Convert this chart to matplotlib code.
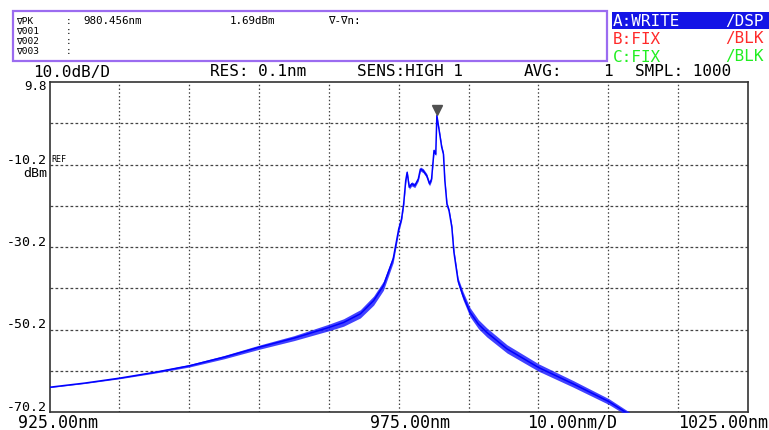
import numpy as np
import matplotlib
matplotlib.use('Agg')
import matplotlib.pyplot as plt
import matplotlib.patches as mpatches
import matplotlib.transforms as mtransforms

W, H = 769, 431

# spectrum (nm, dBm) and ripple half width (dB)
wavelength_nm = [925.0, 930.0, 935.0, 940.0, 945.0, 950.0, 955.0, 960.0, 965.0, 967.1,
                 969.5, 971.4, 972.8, 974.2, 975.0, 975.4, 975.7, 976.0, 976.2, 976.5,
                 976.85, 977.3, 977.8, 978.1, 978.5, 979.0, 979.4, 979.7, 980.05, 980.3,
                 980.456, 980.9, 981.15, 981.4, 981.6, 981.9, 982.2, 982.6, 982.9, 983.5,
                 984.2, 985.2, 986.4, 987.6, 990.5, 995.0, 1000.0, 1005.1, 1008.0]
level_dbm = [-64.2, -63.2, -62.0, -60.6, -59.0, -56.9, -54.5, -52.3, -49.7, -48.5,
             -46.4, -43.2, -39.6, -33.1, -25.8, -23.4, -19.8, -14.1, -12.1, -15.7,
             -14.9, -15.3, -13.7, -11.3, -11.7, -12.9, -14.9, -13.7, -6.8, -7.7,
             1.69, -3.2, -6.0, -7.7, -14.1, -19.8, -21.4, -25.4, -31.5, -38.5,
             -42.0, -46.0, -48.9, -50.9, -54.9, -59.4, -63.4, -67.7, -70.8]
ripple_db = [0.1, 0.1, 0.15, 0.2, 0.3, 0.4, 0.5, 0.6, 0.8, 0.9,
             1.0, 1.1, 1.1, 0.9, 0.7, 0.5, 0.5, 0.5, 0.5, 0.5,
             0.5, 0.5, 0.5, 0.5, 0.5, 0.5, 0.5, 0.5, 0.4, 0.4,
             0.1, 0.4, 0.5, 0.5, 0.5, 0.5, 0.5, 0.6, 0.7, 0.8,
             1.0, 1.1, 1.1, 1.1, 1.0, 0.9, 0.8, 0.7, 0.6]

peak_wl = 980.456
peak_dbm = 1.69

x_start, x_stop, x_div = 925.0, 1025.0, 10.0
ref_dbm, y_div = -10.2, 10.0
y_top, y_bottom = 9.8, -70.2
y_labels = [9.8, -10.2, -30.2, -50.2, -70.2]

mono = 'DejaVu Sans Mono'


def px(x, y):
    return x / W, 1 - y / H


fig = plt.figure(figsize=(W / 100, H / 100), dpi=100)
fig.patch.set_facecolor('white')

# plot area
l, r, t, b = 49.5, 748, 83, 413
ax = fig.add_axes([l / W, 1 - b / H, (r - l) / W, (b - t) / H])
ax.set_xlim(x_start, x_stop)
ax.set_ylim(y_bottom, y_top)
for s in ax.spines.values():
    s.set_color('#333333')
    s.set_linewidth(1.2)
ax.set_xticks([])
ax.set_yticks([])

for gx in np.arange(x_start + x_div, x_stop, x_div):
    ax.axvline(gx, color='#444444', lw=0.9, ls=(0, (1.2, 1.8)), zorder=1)
for gy in np.arange(y_bottom + y_div, y_top - 1, y_div):
    ax.axhline(gy, color='#444444', lw=0.9, ls=(0, (2.2, 1.8)), zorder=1)

wl = np.array(wavelength_nm)
lv = np.array(level_dbm)
rp = np.array(ripple_db)
ax.fill_between(wl, lv - rp, lv + rp, color='#2020ff', lw=0, alpha=0.85, zorder=3)
ax.plot(wl, lv, color='#0000ff', lw=1.1, zorder=4)

off = mtransforms.offset_copy(ax.transData, fig=fig, x=0, y=5, units='dots')
ax.plot([peak_wl], [peak_dbm], marker='v', ms=6.5, color='#505050', transform=off,
        clip_on=False, zorder=5)

# y axis labels
for v in y_labels:
    yy = t + (y_top - v) / (y_top - y_bottom) * (b - t)
    if v == y_top:
        fig.text(*px(47, 80), '%.1f' % v, family=mono, fontsize=9,
                 ha='right', va='top')
    else:
        fig.text(*px(47, yy + 1), '%.1f' % v, family=mono, fontsize=9.5,
                 ha='right', va='bottom')
ref_y = t + (y_top - ref_dbm) / (y_top - y_bottom) * (b - t)
fig.text(*px(51, ref_y - 6), 'REF', family=mono, fontsize=6, ha='left', va='center')
fig.text(*px(47, ref_y + 8), 'dBm', family=mono, fontsize=9.5, ha='right', va='center')

# x axis labels
fig.text(*px(18, 423), '%.2fnm' % x_start, family=mono, fontsize=12, va='center')
fig.text(*px(370, 423), '%.2fnm' % ((x_start + x_stop) / 2), family=mono, fontsize=12,
         va='center')
fig.text(*px(527, 423), '%.2fnm/D' % x_div, family=mono, fontsize=12, va='center')
fig.text(*px(768, 423), '%.2fnm' % x_stop, family=mono, fontsize=12, ha='right',
         va='center')

# settings line
hy = 72
fs_set = 11.5
fig.text(*px(33, hy), '10.0dB/D', family=mono, fontsize=fs_set, va='center')
fig.text(*px(210, hy), 'RES: 0.1nm', family=mono, fontsize=fs_set, va='center')
fig.text(*px(357, hy), 'SENS:HIGH 1', family=mono, fontsize=fs_set, va='center')
fig.text(*px(524, hy), 'AVG:', family=mono, fontsize=fs_set, va='center')
fig.text(*px(603, hy), '1', family=mono, fontsize=fs_set, va='center')
fig.text(*px(635, hy), 'SMPL: 1000', family=mono, fontsize=fs_set, va='center')

# marker box
box = mpatches.Rectangle(px(12.5, 62), 594 / W, 50 / H, transform=fig.transFigure,
                         fill=False, ec='#9b6cf0', lw=1.6)
fig.add_artist(box)
rows = [21.5, 31.5, 41.5, 51.5]
fs_box = 6.8
fig.text(*px(16, rows[0]), '∇PK', family=mono, fontsize=fs_box, va='center')
fig.text(*px(66, rows[0]), ':', family=mono, fontsize=fs_box, va='center')
fig.text(*px(83, rows[0]), '%.3fnm' % peak_wl, family=mono, fontsize=7.8, va='center')
fig.text(*px(230, rows[0]), '%.2fdBm' % peak_dbm, family=mono, fontsize=7.8, va='center')
fig.text(*px(328, rows[0]), '∇-∇n:', family=mono, fontsize=7.8, va='center')
for name, ry in zip(['∇001', '∇002', '∇003'], rows[1:]):
    fig.text(*px(16, ry), name, family=mono, fontsize=fs_box, va='center')
    fig.text(*px(66, ry), ':', family=mono, fontsize=fs_box, va='center')

# trace status
blue_bar = mpatches.Rectangle(px(612, 30), 157 / W, 17 / H, transform=fig.transFigure,
                              fc='#1414e6', ec='none')
fig.add_artist(blue_bar)
traces = [('A:WRITE', '/DSP', 'white', 21.5),
          ('B:FIX', '/BLK', '#ff2a2a', 39),
          ('C:FIX', '/BLK', '#22ee22', 57)]
for lab, mode, col, ty in traces:
    fig.text(*px(613, ty), lab, family=mono, fontsize=11.5, color=col, va='center')
    fig.text(*px(725, ty), mode, family=mono, fontsize=11.5, color=col, va='center')

fig.savefig('out.png', dpi=100)
